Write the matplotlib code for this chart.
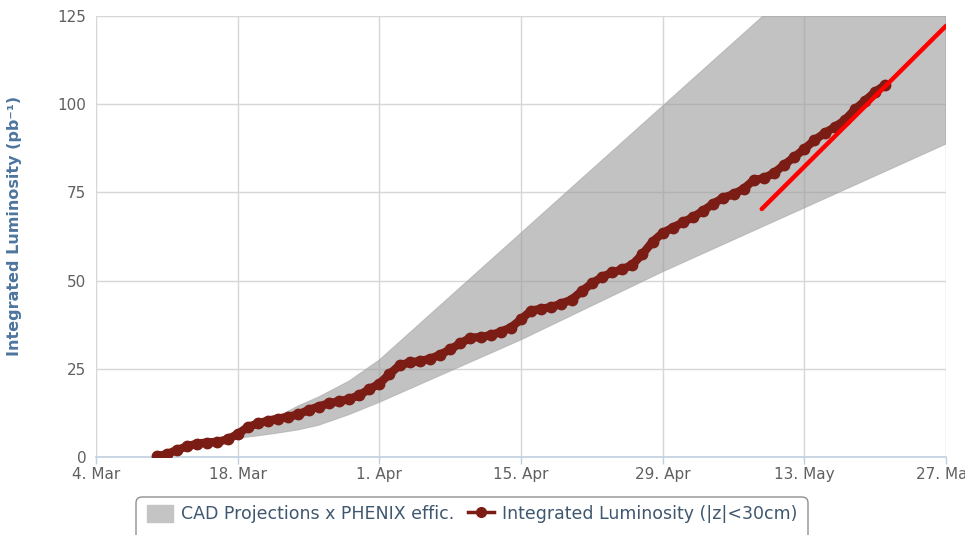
import numpy as np
import pandas as pd
import matplotlib
matplotlib.use('Agg')
import matplotlib.pyplot as plt
import matplotlib.dates as mdates
from matplotlib.patches import FancyBboxPatch, Patch
from matplotlib.lines import Line2D
from matplotlib.transforms import IdentityTransform

plt.rcParams['font.family'] = 'DejaVu Sans'
plt.rcParams['xtick.color'] = '#c0d0e0'
plt.rcParams['ytick.color'] = '#606060'

# delivered integrated luminosity, one point per day (10 Mar .. 21 May)
lumi_dates = pd.date_range('2013-03-10', '2013-05-21', freq='D')
lumi_values = [0.2, 0.8, 2.0, 3.0, 3.8, 4.1, 4.3, 5.0, 6.5, 8.5,
               9.5, 10.3, 10.9, 11.4, 12.1, 13.3, 14.3, 15.2, 15.8, 16.4,
               17.5, 19.2, 20.8, 23.5, 26.0, 26.8, 27.2, 27.8, 29.0, 30.5,
               32.2, 33.8, 34.0, 34.5, 35.5, 36.7, 39.0, 41.5, 42.0, 42.5,
               43.5, 44.6, 47.0, 49.2, 51.0, 52.3, 53.2, 54.5, 57.5, 61.0,
               63.5, 65.0, 66.5, 68.0, 69.8, 71.8, 73.5, 74.5, 76.0, 78.5,
               79.0, 80.5, 82.8, 85.0, 87.3, 89.8, 91.8, 93.5, 95.5, 98.5,
               101.0, 103.5, 105.5]

# CAD projection band (x PHENIX efficiency)
band_dates = pd.to_datetime(['2013-03-17', '2013-03-20', '2013-03-22', '2013-03-24',
                             '2013-03-26', '2013-03-29', '2013-04-01', '2013-04-15',
                             '2013-04-29', '2013-05-13', '2013-05-27'])
band_upper = [5.0, 9.0, 11.5, 14.5, 17.0, 21.5, 27.5, 63.5, 99.5, 135.5, 171.5]
band_lower = [5.0, 6.0, 6.8, 7.7, 9.0, 12.0, 15.5, 33.2, 52.5, 70.6, 88.7]

# recent trend line
fit_dates = pd.to_datetime(['2013-05-08 19:00', '2013-05-27 00:00'])
fit_values = [70.3, 122.2]

tick_dates = pd.to_datetime(['2013-03-04', '2013-03-18', '2013-04-01', '2013-04-15',
                             '2013-04-29', '2013-05-13', '2013-05-27'])
y_ticks = [0, 25, 50, 75, 100, 125]

fig = plt.figure(figsize=(9.65, 5.35), dpi=100)
ax = fig.add_axes([96/965, 1-457/535, 850/965, 441/535])

ax.fill_between(band_dates, band_lower, band_upper, color='#9a9a9a', alpha=0.6,
                linewidth=0.8, edgecolor='#a8a8a8', zorder=2)
ax.plot(lumi_dates, lumi_values, 'o-', color='#7b1c15', markersize=7.5, linewidth=6,
        solid_joinstyle='round', solid_capstyle='round', zorder=3)
ax.plot(fit_dates, fit_values, '-', color='#ff0000', linewidth=3.2,
        solid_capstyle='round', zorder=4)

# axes
ax.set_xlim(tick_dates[0], tick_dates[-1])
ax.set_ylim(0, 125)
ax.set_xticks(tick_dates)
ax.set_xticklabels([f"{d.day}. {d.strftime('%b')}" for d in tick_dates])
ax.set_yticks(y_ticks)
ax.grid(True, color='#d6d6d6', linewidth=1, zorder=1)
ax.set_axisbelow(True)
for s in ['top', 'right', 'left']:
    ax.spines[s].set_visible(False)
ax.spines['bottom'].set_color('#c0d0e0')
ax.spines['bottom'].set_linewidth(1.2)
ax.tick_params(axis='x', length=5, width=1, pad=2, labelsize=11, labelcolor='#606060')
ax.tick_params(axis='y', length=0, pad=7, labelsize=11, labelcolor='#606060')
ax.set_ylabel('Integrated Luminosity (pb\u207b\u00b9)', fontsize=11.5, fontweight='bold',
              color='#4d759e')
ax.yaxis.set_label_coords(-0.087, 0.525)

# legend box, cut off by the bottom of the picture
box = FancyBboxPatch((136, -12), 672, 50, boxstyle='round,pad=0,rounding_size=6',
                     facecolor='white', edgecolor='#909090', linewidth=1,
                     transform=IdentityTransform(), zorder=0)
fig.add_artist(box)
handles = [Patch(facecolor='#c4c4c4', edgecolor='#c4c4c4'),
           Line2D([0], [0], color='#7b1c15', marker='o', markersize=7, linewidth=2.5)]
labels = ['CAD Projections x PHENIX effic.', 'Integrated Luminosity (|z|<30cm)']
leg = fig.legend(handles, labels, loc='center left', bbox_to_anchor=(147/965, 1-514/535),
                 ncol=2, frameon=False, fontsize=12.5, handlelength=1.5, handleheight=1.2,
                 handletextpad=0.45, columnspacing=0.8, borderpad=0, borderaxespad=0)
for t in leg.get_texts():
    t.set_color('#3e576f')

plt.savefig('out.png', dpi=100)
